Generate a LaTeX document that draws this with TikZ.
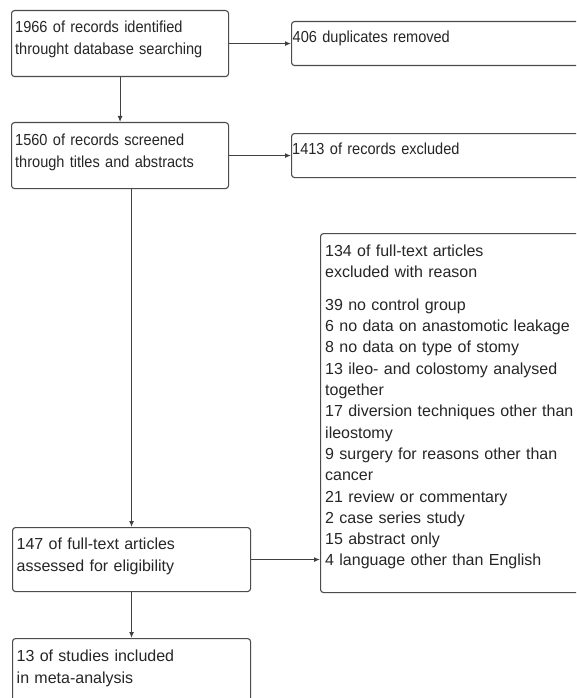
\documentclass[tikz,border=0pt]{standalone}
\usepackage{fontspec}
\setmainfont{Liberation Sans}
\newfontfamily\narrowsans{Liberation Sans}[FakeStretch=0.91]
\usetikzlibrary{arrows.meta}
\begin{document}
\begin{tikzpicture}[x=1pt,y=-1pt,
  boxst/.style={draw=black!70, line width=1.1pt, rounded corners=3pt, anchor=north west, inner sep=0pt},
  txt/.style={anchor=base west, inner sep=0pt, text width=300pt, align=left, text=black!85, font=\fontsize{16}{22}\selectfont},
  ntxt/.style={txt, font=\narrowsans\fontsize{16}{22}\selectfont},
  lst/.style={txt, font=\fontsize{16}{21.3}\selectfont},
  arr/.style={draw=black!75, line width=1.1pt, -{Latex[length=6pt,width=5pt]}}]
\clip (0,0) rectangle (576,698);
\fill[white] (0,0) rectangle (576,698);
% boxes
\node[boxst, minimum width=217pt, minimum height=66pt] (b1) at (11,10) {};
\node[boxst, minimum width=320pt, minimum height=44pt] (b2) at (291,21) {};
\node[boxst, minimum width=217pt, minimum height=66pt] (b3) at (11,122) {};
\node[boxst, minimum width=320pt, minimum height=44pt] (b4) at (291,133) {};
\node[boxst, minimum width=300pt, minimum height=359pt] (b5) at (320,233) {};
\node[boxst, minimum width=238pt, minimum height=64pt] (b6) at (12,527) {};
\node[boxst, minimum width=238pt, minimum height=80pt] (b7) at (12,638) {};
% texts
\node[ntxt] (t1) at (15,33) {1966 of records identified\\throught database searching};
\node[ntxt] (t2) at (292.5,43) {406 duplicates removed};
\node[ntxt] (t3) at (15,145) {1560 of records screened\\through titles and abstracts};
\node[ntxt] (t4) at (292,154) {1413 of records excluded};
\node[lst] (t5) at (325,256) {134 of full-text articles\\excluded with reason\\[11.7pt]
39 no control group\\6 no data on anastomotic leakage\\8 no data on type of stomy\\13 ileo- and colostomy analysed\\together\\17 diversion techniques other than\\ileostomy\\9 surgery for reasons other than\\cancer\\21 review or commentary\\2 case series study\\15 abstract only\\4 language other than English};
\node[txt] (t6) at (16.5,549) {147 of full-text articles\\assessed for eligibility};
\node[txt] (t7) at (16.5,661) {13 of studies included\\in meta-analysis};
% connectors
\draw[arr] (b1.east) -- (b1.east -| b2.west);
\draw[arr] (b1.south) -- (b3.north);
\draw[arr] (b3.east) -- (b3.east -| b4.west);
\draw[arr] (b3.south -| b6.north) -- (b6.north);
\draw[arr] (b6.east) -- (b6.east -| b5.west);
\draw[arr] (b6.south) -- (b7.north);
\end{tikzpicture}
\end{document}
